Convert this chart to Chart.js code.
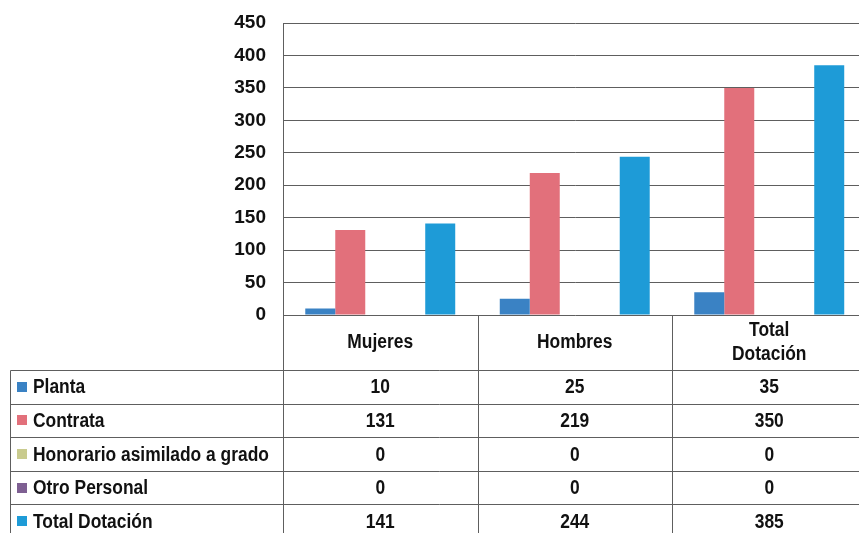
<!DOCTYPE html>
<html lang="es">
<head>
<meta charset="utf-8">
<title>Dotación por género</title>
<script src="https://cdn.jsdelivr.net/npm/chart.js@4/dist/chart.umd.min.js"></script>
<style>
  html, body { margin: 0; padding: 0; background: #fff; overflow: hidden; }
  #wrap { position: absolute; left: 0; top: 0; }
</style>
</head>
<body>
<div id="wrap"><canvas id="dotacionChart" width="868" height="533"></canvas></div>
<script>
// categorías (columnas de la tabla)
const categories = ['Mujeres', 'Hombres', ['Total', 'Dotación']];

// series
const seriesNames = ['Planta', 'Contrata', 'Honorario asimilado a grado', 'Otro Personal', 'Total Dotación'];
const planta = [10, 25, 35];
const contrata = [131, 219, 350];
const honorario = [0, 0, 0];
const otroPersonal = [0, 0, 0];
const totalDotacion = [141, 244, 385];
const seriesColors = ['#3a82c4', '#e2707b', '#c9cb8e', '#7e5f92', '#1e9bd7'];

// eje Y
const yTicks = [0, 50, 100, 150, 200, 250, 300, 350, 400, 450];

const seriesValues = [planta, contrata, honorario, otroPersonal, totalDotacion];

const LINE_COLOR = '#5e5e5e';
const TEXT_COLOR = '#111';
const TABLE_FONT = 'bold 20px "Liberation Sans", Arial, sans-serif';
const HEADER_H = 55;
const ROW_H = 33.6;
const TABLE_LEFT = 10.5;

// texto algo condensado, como en la tabla original
function condensedText(ctx, text, x, y, align) {
  ctx.save();
  ctx.translate(x, y);
  ctx.scale(0.87, 1);
  ctx.textAlign = align;
  ctx.fillText(text, 0, 0);
  ctx.restore();
}

// tabla de datos bajo el gráfico
const dataTablePlugin = {
  id: 'dataTable',
  afterDraw(chart) {
    const ctx = chart.ctx;
    const area = chart.chartArea;
    const xScale = chart.scales.x;
    const colW = (area.right - area.left) / categories.length;
    const bottom = chart.height;
    const top = area.bottom;
    const rowsTop = top + HEADER_H;

    ctx.save();
    ctx.strokeStyle = LINE_COLOR;
    ctx.lineWidth = 1;

    // líneas horizontales
    ctx.beginPath();
    for (let r = 0; r <= seriesNames.length; r++) {
      const y = Math.round(rowsTop + r * ROW_H) + 0.5;
      ctx.moveTo(TABLE_LEFT, y);
      ctx.lineTo(chart.width, y);
    }
    // líneas verticales
    ctx.moveTo(TABLE_LEFT, Math.round(rowsTop) + 0.5);
    ctx.lineTo(TABLE_LEFT, bottom);
    for (let c = 0; c <= categories.length; c++) {
      const x = Math.round(area.left + c * colW) + 0.5;
      ctx.moveTo(x, top);
      ctx.lineTo(x, bottom);
    }
    ctx.stroke();

    ctx.fillStyle = TEXT_COLOR;
    ctx.font = TABLE_FONT;
    ctx.textBaseline = 'middle';

    // encabezados
    categories.forEach((cat, i) => {
      const cx = xScale.getPixelForValue(i);
      const lines = Array.isArray(cat) ? cat : [cat];
      const lh = 24;
      const y0 = top + HEADER_H / 2 - (lines.length - 1) * lh / 2;
      lines.forEach((ln, j) => condensedText(ctx, ln, cx, y0 + j * lh, 'center'));
    });

    // filas
    seriesNames.forEach((name, r) => {
      const cy = rowsTop + r * ROW_H + ROW_H / 2;
      ctx.fillStyle = seriesColors[r];
      ctx.fillRect(17, Math.round(cy - 5), 10, 10);
      ctx.fillStyle = TEXT_COLOR;
      condensedText(ctx, name, 33, cy + 1, 'left');
      seriesValues[r].forEach((v, i) => {
        condensedText(ctx, String(v), xScale.getPixelForValue(i), cy + 1, 'center');
      });
    });
    ctx.restore();
  }
};

const ctx = document.getElementById('dotacionChart').getContext('2d');
new Chart(ctx, {
  type: 'bar',
  data: {
    labels: categories,
    datasets: seriesNames.map((name, i) => ({
      label: name,
      data: seriesValues[i],
      backgroundColor: seriesColors[i],
      borderWidth: 0,
      categoryPercentage: 0.771,
      barPercentage: 1
    }))
  },
  options: {
    responsive: false,
    animation: false,
    devicePixelRatio: 1,
    layout: { padding: { top: 23, right: 1.5, bottom: 218, left: 0 } },
    plugins: { legend: { display: false }, tooltip: { enabled: false } },
    scales: {
      x: { display: false },
      y: {
        min: 0,
        max: 450,
        afterFit(scale) {
          scale.width = 283;
          scale.paddingTop = 0;
          scale.paddingBottom = 0;
        },
        afterBuildTicks(scale) { scale.ticks = yTicks.map(v => ({ value: v })); },
        grid: { color: LINE_COLOR, lineWidth: 1, drawTicks: false },
        border: { display: true, color: LINE_COLOR, width: 1 },
        ticks: {
          padding: 17,
          color: TEXT_COLOR,
          font: { family: '"Liberation Sans", Arial, sans-serif', size: 19, weight: 'bold' }
        }
      }
    }
  },
  plugins: [dataTablePlugin]
});
</script>
</body>
</html>
